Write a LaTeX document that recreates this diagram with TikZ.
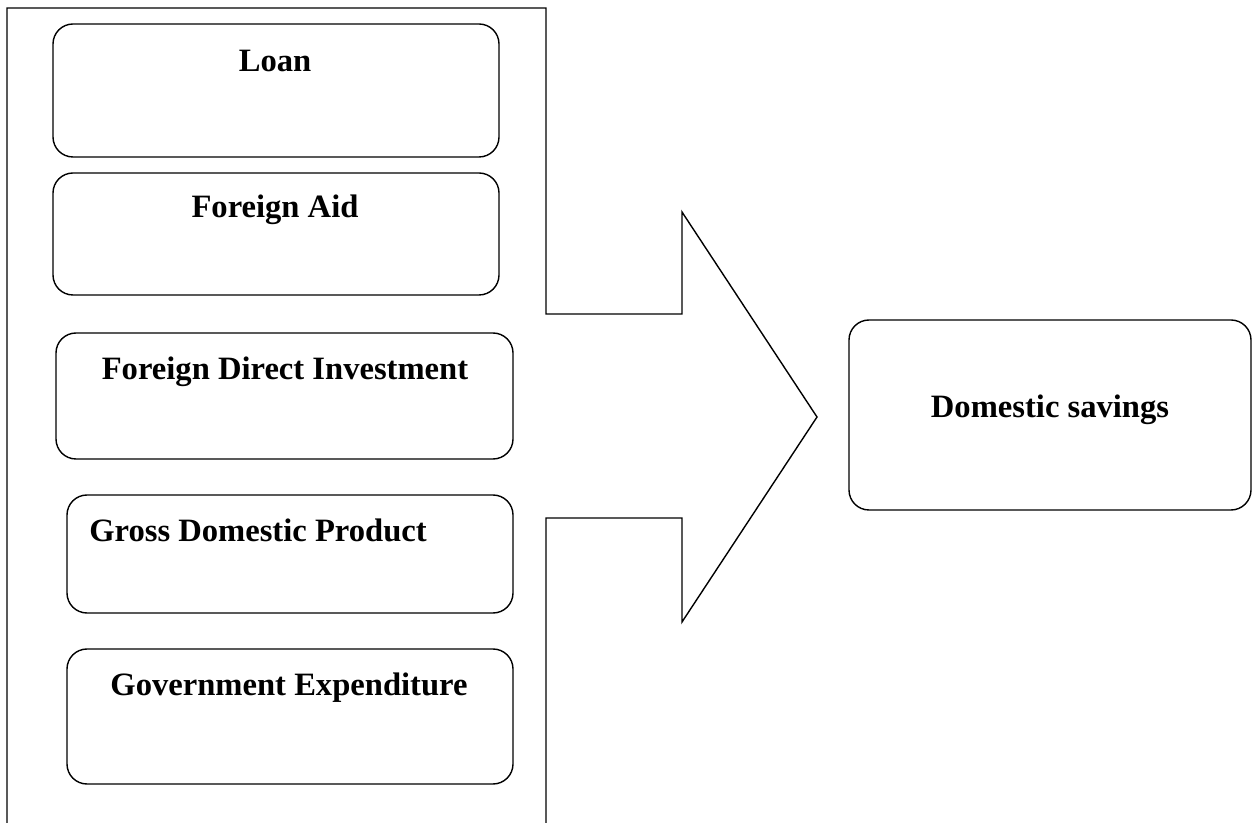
\documentclass[tikz,border=0pt]{standalone}
\usepackage{fontspec}
\setmainfont{Liberation Serif}
\begin{document}
\begin{tikzpicture}[x=0.5pt,y=-0.5pt,
  box/.style={draw,line width=0.7pt,rounded corners=10pt},
  lbl/.style={anchor=base,inner sep=0pt,font=\fontsize{16.3}{19}\selectfont\bfseries},
  outline/.style={draw,line width=0.7pt,line join=miter}]
\useasboundingbox (0,0) rectangle (1254,823);
% outer frame with arrow
\draw[outline] (7,823) -- (7,8) -- (546,8) -- (546,314) -- (682,314) -- (682,212)
  -- (817,417) -- (682,622) -- (682,518) -- (546,518) -- (546,823);
% boxes
\draw[box] (53,24) rectangle (499,157);
\draw[box] (53,173) rectangle (499,295);
\draw[box] (56,333) rectangle (513,459);
\draw[box] (67,495) rectangle (513,613);
\draw[box] (67,649) rectangle (513,784);
\draw[box] (849,320) rectangle (1251,510);
% labels
\node[lbl] (loan) at (275,72) {Loan};
\node[lbl] (aid) at (275,218) {Foreign Aid};
\node[lbl] (fdi) at (285,380) {Foreign Direct Investment};
\node[lbl] (gdp) at (258,542) {Gross Domestic Product};
\node[lbl] (gov) at (289,696) {Government Expenditure};
\node[lbl] (sav) at (1050,418) {Domestic savings};
\end{tikzpicture}
\end{document}
